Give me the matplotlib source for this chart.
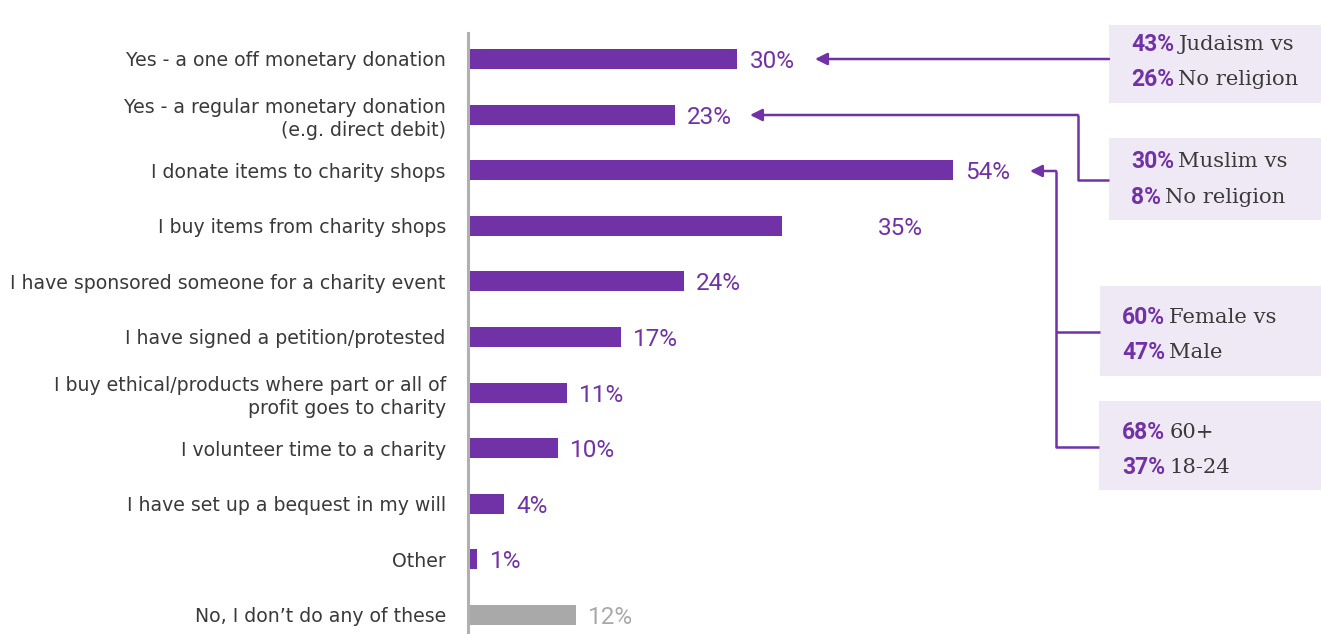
import matplotlib.pyplot as plt
from matplotlib.patches import Rectangle

PURPLE = "#7132a8"
GREY = "#a9a9a9"
TEXT = "#3a3a3a"
BOX = "#efe8f5"

categories = [
    "Yes - a one off monetary donation",
    "Yes - a regular monetary donation\n(e.g. direct debit)",
    "I donate items to charity shops",
    "I buy items from charity shops",
    "I have sponsored someone for a charity event",
    "I have signed a petition/protested",
    "I buy ethical/products where part or all of\nprofit goes to charity",
    "I volunteer time to a charity",
    "I have set up a bequest in my will",
    "Other",
    "No, I don\u2019t do any of these",
]
values = [30, 23, 54, 35, 24, 17, 11, 10, 4, 1, 12]

# callout boxes: (bold figure, rest of line) for two lines each
callouts = [
    [("43%", "Judaism vs"), ("26%", "No religion")],
    [("30%", "Muslim vs"), ("8%", "No religion")],
    [("60%", "Female vs"), ("47%", "Male")],
    [("68%", "60+"), ("37%", "18-24")],
]

plt.rcParams["font.family"] = ["Roboto", "DejaVu Sans"]

W, H = 1321, 634
fig = plt.figure(figsize=(W / 100, H / 100), dpi=100)

# axis origin at x=468px, 8.98px per percent, rows every 55.6px from y=59px
x0, ppp = 468, 8.98
y0, row = 59, 55.6
ax = fig.add_axes([x0 / W, 0, 1 - x0 / W, 1])
ax.set_xlim(0, (W - x0) / ppp)
ax.set_ylim((H - y0) / row, -y0 / row)


def px(x, y):
    return (x - x0) / ppp, (y - y0) / row


ypos = list(range(len(values)))
colors = [PURPLE] * (len(values) - 1) + [GREY]
ax.barh(ypos, values, height=0.36, color=colors, zorder=2)

for i, v in enumerate(values):
    off = 10.6 if i == 3 else 1.4
    ax.text(v + off, i, f"{v}%", va="center_baseline", ha="left", fontsize=17.5,
            color=colors[i] if i < len(values) - 1 else "#aaaaaa")

ax.set_yticks(ypos)
ax.set_yticklabels(categories, fontsize=13.6, color=TEXT, linespacing=1.3,
                   family="DejaVu Sans")
ax.tick_params(axis="y", length=0, pad=16)
ax.set_xticks([])
for s in ["top", "right", "bottom"]:
    ax.spines[s].set_visible(False)
ax.spines["left"].set_color("#b0b0b0")
ax.spines["left"].set_linewidth(2.2)
ax.spines["left"].set_bounds(px(0, 33)[1], px(0, H)[1])

# callout boxes (left, top, bottom in px) and text rows
boxes = [(1109, 25, 103, 1131, (42, 77)),
         (1109, 138, 220, 1131, (159, 195)),
         (1100, 286, 376, 1122, (315, 350)),
         (1099, 401, 490, 1122, (430, 465))]
for (bl, bt, bb, tx, ty), lines in zip(boxes, callouts):
    xa, ya = px(bl, bt)
    _, yb = px(bl, bb)
    ax.add_patch(Rectangle((xa, ya), ax.get_xlim()[1] - xa, yb - ya,
                           facecolor=BOX, edgecolor="none", clip_on=False, zorder=1))
    for (num, rest), yy in zip(lines, ty):
        t = ax.text(*px(tx, yy), num, fontsize=16.5, fontweight="bold",
                    color=PURPLE, va="center_baseline", ha="left")
        ax.annotate(rest, xy=(1, 0), xycoords=t, xytext=(3, 1.5),
                    textcoords="offset points", va="bottom", ha="left",
                    fontsize=15.2, color=TEXT, family="DejaVu Serif")

arrow = dict(arrowstyle="-|>", color=PURPLE, lw=1.8, mutation_scale=18,
             shrinkA=0, shrinkB=0)
line = dict(color=PURPLE, lw=1.8, solid_capstyle="butt", clip_on=False)

# Judaism -> one off donation
ax.annotate("", xy=px(815, 59), xytext=px(1109, 59), arrowprops=arrow)

# Muslim -> regular donation
pts = [px(1109, 180), px(1078, 180), px(1078, 115)]
ax.plot([p[0] for p in pts], [p[1] for p in pts], **line)
ax.annotate("", xy=px(750, 115), xytext=px(1078, 115), arrowprops=arrow)

# gender and age -> donating items
pts = [px(1099, 447), px(1056, 447), px(1056, 171)]
ax.plot([p[0] for p in pts], [p[1] for p in pts], **line)
pts = [px(1100, 332), px(1056, 332)]
ax.plot([p[0] for p in pts], [p[1] for p in pts], **line)
ax.annotate("", xy=px(1030, 171), xytext=px(1056, 171), arrowprops=arrow)

fig.savefig("out.png", dpi=100)
